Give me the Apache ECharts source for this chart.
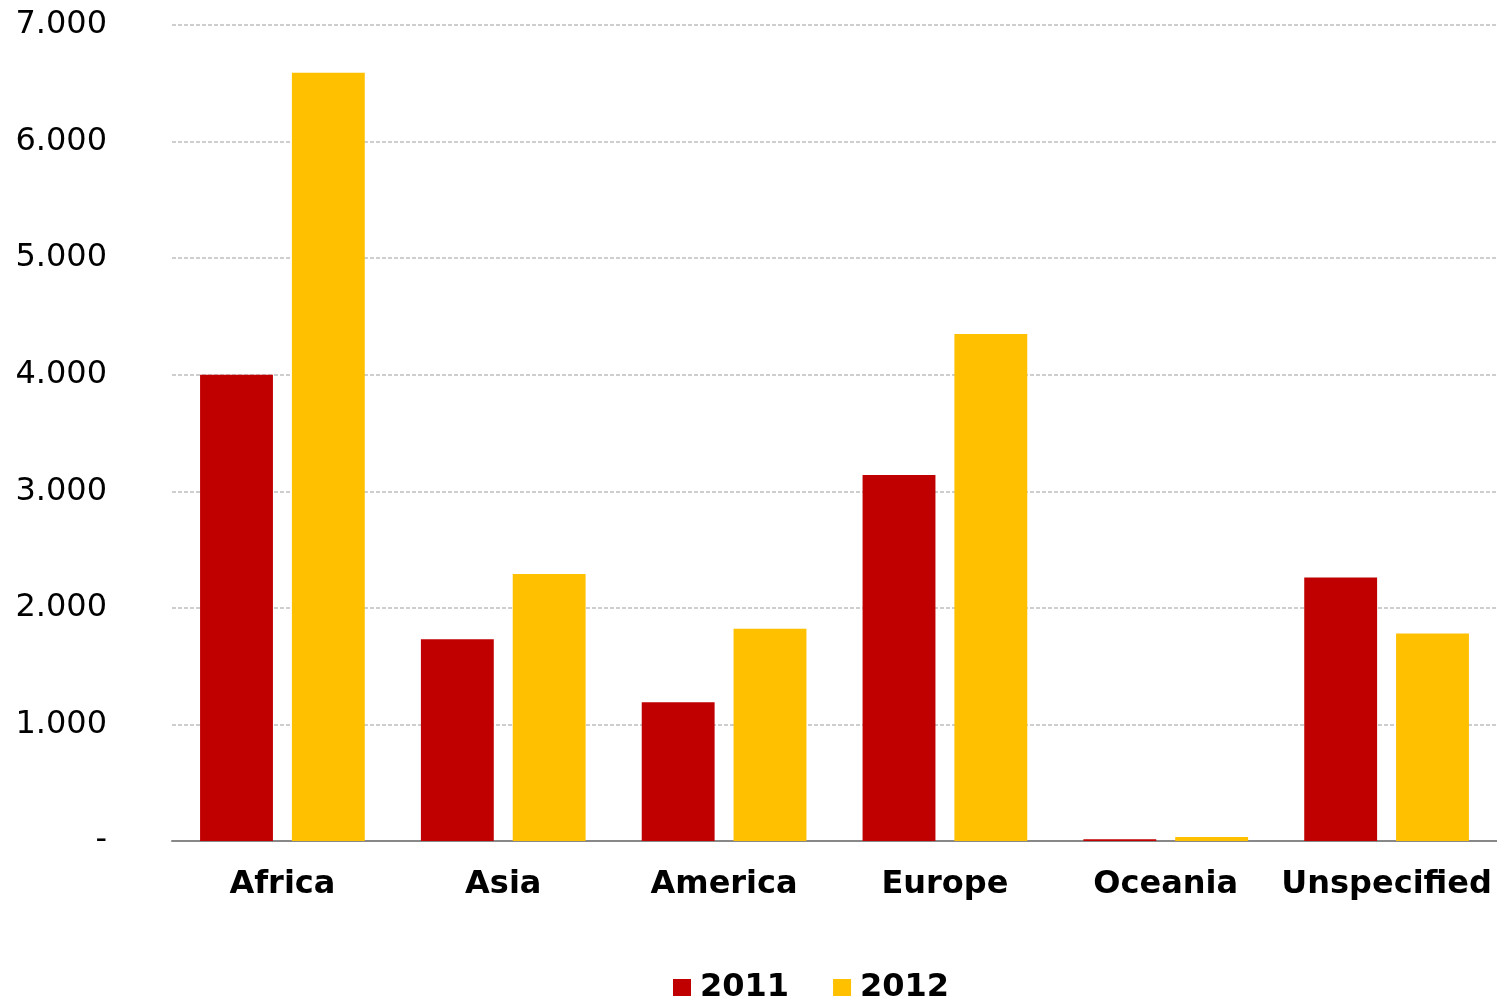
<!DOCTYPE html>
<html><head><meta charset="utf-8">
<script src="https://cdn.jsdelivr.net/npm/echarts@6/dist/echarts.min.js"></script>
<style>html,body{margin:0;padding:0;background:#fff}#c{width:1497px;height:996px}</style>
</head><body><div id="c"></div>
<script>
const categories = ['Africa','Asia','America','Europe','Oceania','Unspecified'];
const values2011 = [4000, 1730, 1190, 3140, 15, 2260];
const values2012 = [6590, 2290, 1820, 4350, 35, 1780];
const yTicks = {min: 0, max: 7000, interval: 1000};
const FONT = 'DejaVu Sans';
const chart = echarts.init(document.getElementById('c'));
chart.setOption({
  animation: false,
  grid: {left: 172, right: 0, top: 25, bottom: 155, containLabel: false},
  legend: {
    top: 967, left: 668,
    itemWidth: 18, itemHeight: 18, itemGap: 44,
    icon: 'rect',
    textStyle: {fontFamily: FONT, fontSize: 32, fontWeight: 'bold', color: '#000', padding: [0,0,0,4]},
    data: ['2011','2012']
  },
  xAxis: {
    type: 'category', data: categories,
    axisLine: {lineStyle: {color: '#888', width: 2}},
    axisTick: {show: false},
    axisLabel: {fontFamily: FONT, fontSize: 32, fontWeight: 'bold', color: '#000', margin: 28, interval: 0}
  },
  yAxis: {
    type: 'value', min: yTicks.min, max: yTicks.max, interval: yTicks.interval,
    axisLine: {show: false}, axisTick: {show: false},
    splitLine: {lineStyle: {color: '#bfbfbf', type: [4,2], width: 1.5}},
    axisLabel: {
      fontFamily: FONT, fontSize: 32, color: '#000', margin: 65, padding: [4,0,0,0],
      formatter: v => v === 0 ? '-' : (v/1000).toFixed(0) + '.000'
    }
  },
  series: [
    {name: '2011', type: 'bar', data: values2011, barWidth: '33%', barGap: '26%', itemStyle: {color: '#C00000'}},
    {name: '2012', type: 'bar', data: values2012, barWidth: '33%', barGap: '26%', itemStyle: {color: '#FFC000'}}
  ]
});
</script></body></html>
